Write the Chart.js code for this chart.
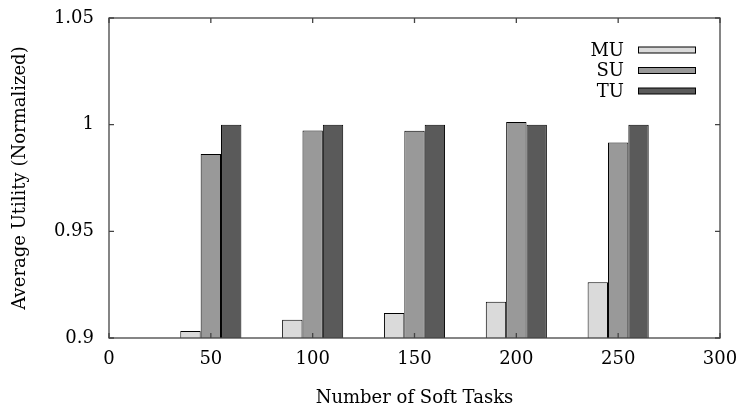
<!DOCTYPE html>
<html>
<head>
<meta charset="utf-8">
<script src="https://cdn.jsdelivr.net/npm/chart.js@4/dist/chart.umd.min.js"></script>
<style>
html,body{margin:0;padding:0;background:#fff;}
canvas{display:block;}
</style>
</head>
<body>
<canvas id="c" width="742" height="409"></canvas>
<script>
const categories = [50, 100, 150, 200, 250];
const seriesNames = ['MU', 'SU', 'TU'];
const muValues = [0.9033, 0.9086, 0.9117, 0.9170, 0.9261];
const suValues = [0.9862, 0.9973, 0.9972, 1.0012, 0.9916];
const tuValues = [1.0, 1.0, 1.0, 1.0, 1.0];
const xTicks = [0, 50, 100, 150, 200, 250, 300];
const yTicks = [0.9, 0.95, 1, 1.05];
const colors = ['#dadada', '#999999', '#5a5a5a'];

const FONT = "'DejaVu Serif', serif";
const toPoints = vals => categories.map((c, i) => ({x: c, y: vals[i]}));

const boxPlugin = {
  id: 'box',
  afterDraw(chart) {
    const ctx = chart.ctx, a = chart.chartArea;
    const xs = chart.scales.x, ys = chart.scales.y;
    ctx.save();
    ctx.strokeStyle = '#444';
    ctx.lineWidth = 1.3;
    ctx.strokeRect(a.left, a.top, a.right - a.left, a.bottom - a.top);
    ctx.beginPath();
    const tl = 5;
    xTicks.forEach(v => {
      const px = xs.getPixelForValue(v);
      ctx.moveTo(px, a.bottom); ctx.lineTo(px, a.bottom - tl);
      ctx.moveTo(px, a.top); ctx.lineTo(px, a.top + tl);
    });
    yTicks.forEach(v => {
      const py = ys.getPixelForValue(v);
      ctx.moveTo(a.left, py); ctx.lineTo(a.left + tl, py);
      ctx.moveTo(a.right, py); ctx.lineTo(a.right - tl, py);
    });
    ctx.stroke();
    // legend
    ctx.font = "18px " + FONT;
    ctx.textAlign = 'right';
    ctx.textBaseline = 'middle';
    chart.data.datasets.forEach((ds, i) => {
      const cy = 50 + i * 20.5;
      ctx.fillStyle = '#000';
      ctx.fillText(ds.label, 624, cy + 1);
      ctx.fillStyle = ds.backgroundColor;
      ctx.fillRect(638, cy - 3, 58, 6);
      ctx.strokeStyle = '#000';
      ctx.lineWidth = 1;
      ctx.strokeRect(638.5, cy - 3, 57, 6);
    });
    ctx.restore();
  }
};

new Chart(document.getElementById('c'), {
  type: 'bar',
  data: {
    datasets: seriesNames.map((n, i) => ({
      label: n,
      data: toPoints([muValues, suValues, tuValues][i]),
      backgroundColor: colors[i],
      borderColor: '#000',
      borderWidth: 1,
      borderSkipped: 'start'
    }))
  },
  options: {
    responsive: false,
    animation: false,
    categoryPercentage: 0.6,
    barPercentage: 1.0,
    layout: {padding: {left: 0, right: 22, top: 18, bottom: 0}},
    plugins: {legend: {display: false}, tooltip: {enabled: false}},
    scales: {
      x: {
        type: 'linear',
        min: 0, max: 300,
        offset: false,
        afterBuildTicks: s => { s.ticks = xTicks.map(v => ({value: v})); },
        afterFit: s => { s.height = 71; s.paddingLeft = 0; s.paddingRight = 0; },
        grid: {display: false, drawTicks: false},
        border: {display: false},
        ticks: {color: '#000', font: {family: FONT, size: 18}, padding: 11, maxRotation: 0, autoSkip: false},
        title: {display: true, text: 'Number of Soft Tasks', color: '#000', font: {family: FONT, size: 18}, padding: {top: 0, bottom: 0}}
      },
      y: {
        min: 0.9, max: 1.05,
        afterBuildTicks: s => { s.ticks = yTicks.map(v => ({value: v})); },
        afterFit: s => { s.width = 109; s.paddingTop = 0; s.paddingBottom = 0; },
        grid: {display: false, drawTicks: false},
        border: {display: false},
        ticks: {color: '#000', font: {family: FONT, size: 18}, padding: 15, callback: v => String(+v.toFixed(2))},
        title: {display: true, text: 'Average Utility (Normalized)', color: '#000', font: {family: FONT, size: 18}, padding: {top: 10, bottom: 0}}
      }
    }
  },
  plugins: [boxPlugin]
});
</script>
</body>
</html>
